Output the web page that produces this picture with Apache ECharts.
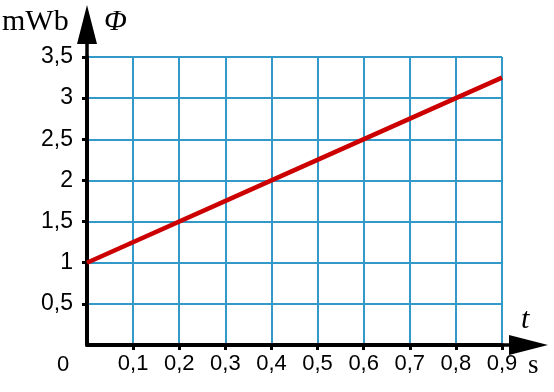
<!DOCTYPE html>
<html>
<head>
<meta charset="utf-8">
<script src="https://cdn.jsdelivr.net/npm/echarts@6/dist/echarts.min.js"></script>
<style>
html,body{margin:0;padding:0;background:#fff;}
#c{width:554px;height:392px;}
</style>
</head>
<body>
<div id="c"></div>
<script>
// Data
const timeValues = [0, 0.4, 0.8, 0.9];      // t in s
const fluxValues = [1, 2, 3, 3.25];         // Φ in mWb
const xTickInterval = 0.1;
const yTickInterval = 0.5;
const xMax = 0.9;
const yMax = 3.5;
const yUnit = 'mWb';
const yName = 'Φ';
const xName = 't';
const xUnit = 's';
const originLabel = '0';

const chart = echarts.init(document.getElementById('c'), null, {renderer: 'canvas'});
const commaFmt = v => String(Math.round(v * 100) / 100).replace('.', ',');
const gridColor = '#3399c8';
const axisColor = '#000';
const labelFontX = {fontFamily: 'Liberation Sans, Arial, sans-serif', fontSize: 22, color: '#000'};
const labelFontY = {fontFamily: 'Liberation Sans, Arial, sans-serif', fontSize: 23, color: '#000'};

const xArrow = 'path://M8.25,46 L8.25,39 L0,39 L10,0 L20,39 L11.75,39 L11.75,46 Z';
const yArrow = 'path://M8.25,52 L8.25,39 L0,39 L10,0 L20,39 L11.75,39 L11.75,52 Z';

chart.setOption({
  animation: false,
  backgroundColor: '#fff',
  grid: {left: 87, right: 52, top: 57, bottom: 47, containLabel: false},
  xAxis: {
    type: 'value', min: 0, max: xMax, interval: xTickInterval,
    axisLine: {show: true, onZero: false, lineStyle: {color: axisColor, width: 4},
      symbol: ['none', xArrow], symbolSize: [22, 46], symbolOffset: [0, 23]},
    axisTick: {show: true, inside: false, length: 5, lineStyle: {color: axisColor, width: 3}},
    axisLabel: Object.assign({margin: 8, showMinLabel: false, formatter: commaFmt}, labelFontX),
    splitLine: {show: true, lineStyle: {color: gridColor, width: 2}}
  },
  yAxis: {
    type: 'value', min: 0, max: yMax, interval: yTickInterval,
    axisLine: {show: true, onZero: false, lineStyle: {color: axisColor, width: 4},
      symbol: ['none', yArrow], symbolSize: [20, 52], symbolOffset: [0, 26]},
    axisTick: {show: true, inside: false, length: 5, lineStyle: {color: axisColor, width: 3}},
    axisLabel: Object.assign({margin: 14, showMinLabel: false, formatter: commaFmt}, labelFontY),
    splitLine: {show: true, lineStyle: {color: gridColor, width: 2}}
  },
  series: [{
    type: 'line',
    data: timeValues.map((t, i) => [t, fluxValues[i]]),
    showSymbol: false,
    symbol: 'none',
    lineStyle: {color: '#cc0000', width: 4.5},
    z: 5
  }],
  graphic: [
    {type: 'text', left: 2, top: 7, style: {text: yUnit, font: '30px "Liberation Serif", serif', fill: '#000'}},
    {type: 'text', left: 104, top: 7, style: {text: yName, font: 'italic 30px "Liberation Serif", serif', fill: '#000'}},
    {type: 'text', left: 521, top: 305, style: {text: xName, font: 'italic 30px "Liberation Serif", serif', fill: '#000'}},
    {type: 'text', left: 528, top: 352, style: {text: xUnit, font: '27px "Liberation Serif", serif', fill: '#000'}},
    {type: 'text', left: 57, top: 354, style: {text: originLabel, font: '22px "Liberation Sans", Arial, sans-serif', fill: '#000'}}
  ]
});
</script>
</body>
</html>
